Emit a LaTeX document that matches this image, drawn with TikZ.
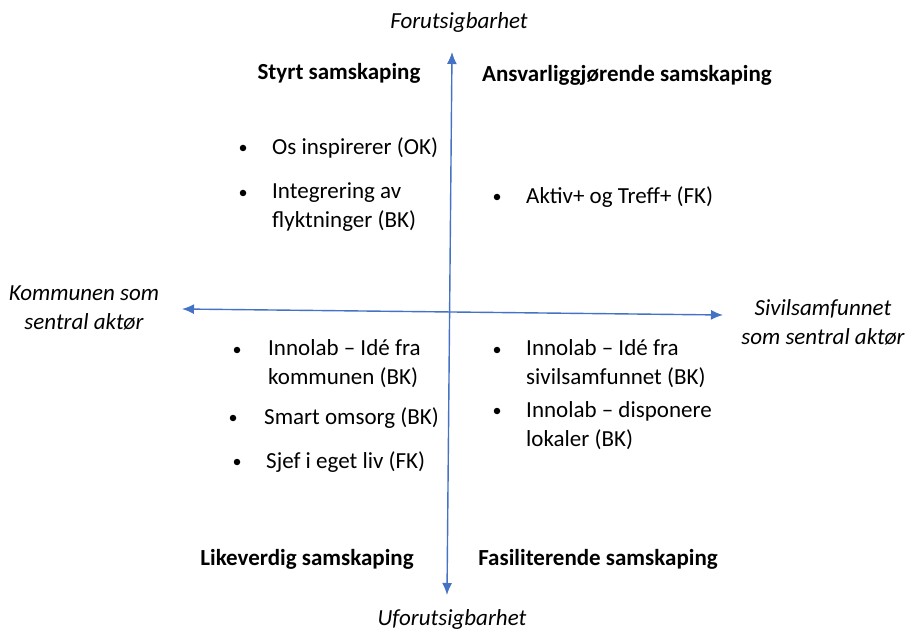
\documentclass[tikz,border=0pt]{standalone}
\usepackage{fontspec}
\setmainfont{Carlito}
\usetikzlibrary{arrows.meta}
\definecolor{axisblue}{HTML}{4472C4}
\tikzset{
  axis/.style={draw=axisblue,line width=1.4pt,{Latex[length=12pt,width=10pt]}-{Latex[length=12pt,width=10pt]}},
  quad/.style={font=\bfseries},
  pole/.style={font=\itshape,align=center},
  item/.style={anchor=west,align=left,inner sep=0pt},
  dot/.style={circle,fill=black,inner sep=0pt,minimum size=6.5pt}
}
\begin{document}
\begin{tikzpicture}[x=1pt,y=-1pt]
    \fontsize{23}{29}\selectfont
    \useasboundingbox (0,0) rectangle (906,631);
    % axes
    \coordinate (top) at (452,52);
    \coordinate (bottom) at (447,595);
    \coordinate (west) at (182,309);
    \coordinate (east) at (723,315);
    \draw[axis] (bottom) -- (top);
    \draw[axis] (west) -- (east);
    % poles
    \node[pole] (fut) at (459,22) {Forutsigbarhet};
    \node[pole] (ufut) at (452,619) {Uforutsigbarhet};
    \node[pole] (komm) at (84,308) {Kommunen som\\sentral aktør};
    \node[pole] (sivil) at (823,322) {Sivilsamfunnet\\som sentral aktør};
    % quadrants
    \node[quad] (styrt) at (339,73) {Styrt samskaping};
    \node[quad] (ansv) at (627,75) {Ansvarliggjørende samskaping};
    \node[quad] (likev) at (307,559) {Likeverdig samskaping};
    \node[quad] (fasil) at (598,559) {Fasiliterende samskaping};
    % items
    \node[dot] (d1) at (243,148) {};
    \node[item] (os) at (272,148) {Os inspirerer (OK)};
    \node[dot] (d2) at (243,193) {};
    \node[item] (integ) at (272,207.5) {Integrering av\\flyktninger (BK)};
    \node[dot] (d3) at (497,197) {};
    \node[item] (aktiv) at (526,197) {Aktiv+ og Treff+ (FK)};
    \node[dot] (d4) at (237,350) {};
    \node[item] (ideK) at (268,364) {Innolab – Idé fra\\kommunen (BK)};
    \node[dot] (d5) at (233,418) {};
    \node[item] (smart) at (264,418) {Smart omsorg (BK)};
    \node[dot] (d6) at (237,462) {};
    \node[item] (sjef) at (266,462) {Sjef i eget liv (FK)};
    \node[dot] (d7) at (497,350) {};
    \node[item] (ideS) at (526,363.5) {Innolab – Idé fra\\sivilsamfunnet (BK)};
    \node[dot] (d8) at (497,411) {};
    \node[item] (lokal) at (526,425.5) {Innolab – disponere\\lokaler (BK)};
\end{tikzpicture}
\end{document}
